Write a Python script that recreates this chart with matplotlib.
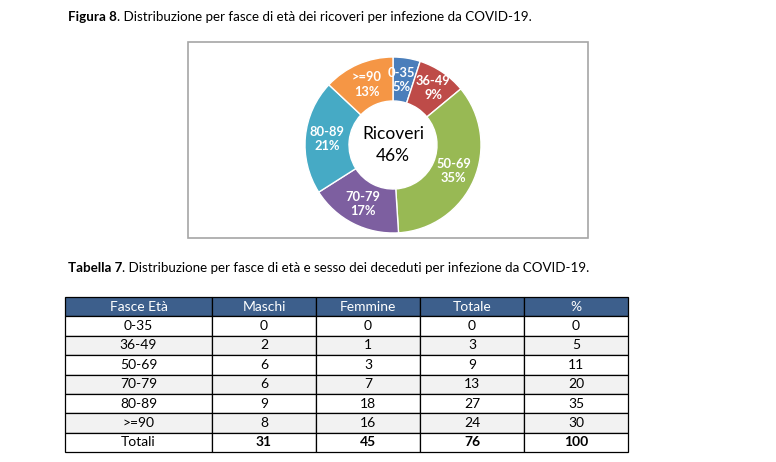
import numpy as np
import matplotlib.pyplot as plt
from matplotlib.patches import Rectangle

plt.rcParams['font.family'] = ['Lato', 'DejaVu Sans']

# donut data (Figura 8)
fasce = ['0-35', '36-49', '50-69', '70-79', '80-89', '>=90']
ricoveri_pct = [5, 9, 35, 17, 21, 13]
colori = ['#4A7EBB', '#BE4B48', '#98B954', '#7D5FA0', '#46AAC5', '#F59645']
centro = 'Ricoveri\n46%'

# table data (Tabella 7)
intestazione = ['Fasce Età', 'Maschi', 'Femmine', 'Totale', '%']
righe = ['0-35', '36-49', '50-69', '70-79', '80-89', '>=90', 'Totali']
maschi = [0, 2, 6, 6, 9, 8, 31]
femmine = [0, 1, 3, 7, 18, 16, 45]
totale = [0, 3, 9, 13, 27, 24, 76]
percento = [0, 5, 11, 20, 35, 30, 100]

W, H = 776, 462
fig = plt.figure(figsize=(W / 100, H / 100), dpi=100)

# background axes in pixel coordinates
ax = fig.add_axes([0, 0, 1, 1])
ax.set_xlim(0, W)
ax.set_ylim(H, 0)
ax.axis('off')

def didascalia(x, y, grassetto, resto):
    t = ax.text(x, y, grassetto, fontsize=9.6, fontweight='bold', va='center', ha='left')
    ax.annotate(resto, xy=(1, 0.5), xycoords=t, va='center', ha='left', fontsize=9.6)

didascalia(68, 17, 'Figura 8', '. Distribuzione per fasce di età dei ricoveri per infezione da COVID-19.')
didascalia(68, 268, 'Tabella 7', '. Distribuzione per fasce di età e sesso dei deceduti per infezione da COVID-19.')

# frame around the chart
ax.add_patch(Rectangle((188, 42), 400, 196, fill=False, edgecolor='#A6A6A6', lw=1.2))

# donut
cx, cy, r = 393, 145, 88
axp = fig.add_axes([(cx - r) / W, (H - cy - r) / H, 2 * r / W, 2 * r / H])
etichette = [f'{f}\n{p}%' for f, p in zip(fasce, ricoveri_pct)]
wedges, testi = axp.pie(ricoveri_pct, colors=colori, startangle=90, counterclock=False,
                        labels=etichette, labeldistance=0.75,
                        wedgeprops=dict(width=0.5, edgecolor='white', linewidth=1),
                        textprops=dict(color='white', fontweight='bold', fontsize=9.3,
                                       ha='center', va='center', linespacing=1.25))
# small nudges so the two narrow slices' labels don't collide
px, py = testi[0].get_position()
testi[0].set_position((px - 0.02, py))
px, py = testi[1].get_position()
testi[1].set_position((px * 1.08, py * 1.04))
axp.text(0, 0, centro, ha='center', va='center', fontsize=12.5, linespacing=1.45)
axp.set_xlim(-1, 1)
axp.set_ylim(-1, 1)
axp.set_aspect('equal')

# table
celle = []
for i in range(len(righe)):
    celle.append([righe[i], str(maschi[i]), str(femmine[i]), str(totale[i]), str(percento[i])])

x0, x1, y0, y1 = 65, 628, 297, 452
larghezze = [147, 104, 104, 104, 104]
tab = ax.table(cellText=celle, colLabels=intestazione, cellLoc='center',
               colWidths=[w / W for w in larghezze],
               bbox=[x0 / W, 1 - y1 / H, (x1 - x0) / W, (y1 - y0) / H])
tab.auto_set_font_size(False)
for (rr, cc), cell in tab.get_celld().items():
    cell.set_linewidth(0.9)
    cell.set_edgecolor('black')
    cell.get_text().set_fontsize(10)
    if rr == 0:
        cell.set_facecolor('#3D5F8C')
        cell.get_text().set_color('white')
    else:
        cell.set_facecolor('#F2F2F2' if rr in (2, 4, 6) else 'white')
        if rr == len(righe) and cc > 0:
            cell.get_text().set_fontweight('bold')

fig.savefig('out.png', dpi=100, facecolor='white')
